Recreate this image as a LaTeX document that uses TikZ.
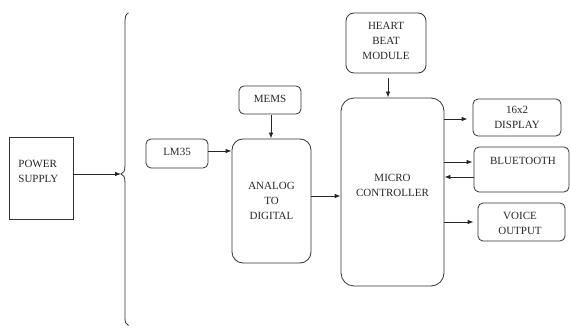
\documentclass[tikz,border=0pt]{standalone}
\usepackage{fontspec}
\setmainfont{Liberation Serif}
\usetikzlibrary{arrows.meta,calc}
\begin{document}
\begin{tikzpicture}[x=1pt,y=1pt,
  line width=0.8pt,
  blk/.style={draw=black!80, line width=0.8pt, inner sep=0pt},
  rbox/.style={blk, rounded corners=5pt},
  bigbox/.style={blk, rounded corners=11pt},
  txt/.style={font=\fontsize{11}{15}\selectfont, align=center, inner sep=0pt, text=black!85},
  arr/.style={-{Latex[length=6pt,width=4.5pt]}, draw=black!85, line width=0.8pt}]
\useasboundingbox (0,0) rectangle (570,327);

% power supply and the supply brace
\node[blk, minimum width=64pt, minimum height=82pt] (ps) at (41,149) {};
\node[txt, align=left, anchor=west] at (18,156) {POWER\\SUPPLY};
\coordinate (tip) at (121,153);
\draw[black!80, line width=0.8pt]
  (128.5,314) .. controls (125.5,313) and (125,310) .. (125,304)
  -- (125,162) .. controls (125,156) and (123.5,153.5) .. (tip)
  .. controls (123.5,152.5) and (125,150) .. (125,144)
  -- (125,10) .. controls (125,5) and (125.5,2.5) .. (128.5,1.5);
\draw[arr] (ps.east |- tip) -- (tip);

% sensor inputs and converter
\node[rbox, minimum width=62pt, minimum height=29pt] (lm) at (177,173.5) {};
\node[txt] at (177,175) {LM35};
\node[rbox, minimum width=62pt, minimum height=28pt] (mems) at (270,227) {};
\node[txt] at (270,228) {MEMS};
\node[bigbox, minimum width=79pt, minimum height=124pt] (adc) at (271.5,126) {};
\node[txt] at (271.5,126) {ANALOG\\TO\\DIGITAL};

% controller and peripherals
\node[bigbox, rounded corners=13pt, minimum width=103pt, minimum height=188pt] (mc) at (392.5,135) {};
\node[txt] at (392.5,141.5) {MICRO\\CONTROLLER};
\node[rbox, rounded corners=8pt, minimum width=80pt, minimum height=60pt] (hb) at (386,284) {};
\node[txt] at (386,286) {HEART\\BEAT\\MODULE};
\node[rbox, minimum width=88pt, minimum height=37pt] (disp) at (517,209.5) {};
\node[txt] at (517,209.5) {16x2\\DISPLAY};
\node[rbox, minimum width=95pt, minimum height=45pt] (bt) at (521.5,157.5) {};
\node[txt] at (523,166) {BLUETOOTH};
\node[rbox, minimum width=87pt, minimum height=38pt] (voice) at (521.5,105) {};
\node[txt] at (520,103.5) {VOICE\\OUTPUT};

% signal flow
\draw[arr] ([yshift=2.5pt]lm.east) -- ([yshift=2.5pt]lm.east -| adc.west);
\draw[arr] (mems.south -| 271,0) ++(0,-1) -- (adc.north -| 271,0);
\draw[arr] ([yshift=5pt]adc.east) -- ([yshift=5pt]adc.east -| mc.west);
\draw[arr] (388,249) -- (mc.north -| 388,0);
\draw[arr, shorten >=5pt] ([yshift=-1.5pt]disp.west -| mc.east) -- ([yshift=-1.5pt]disp.west);
\draw[arr, shorten >=1pt] ([yshift=7.5pt]bt.west -| mc.east) -- ([yshift=7.5pt]bt.west);
\draw[arr] ([yshift=-7.5pt]bt.west) -- ([yshift=-7.5pt]bt.west -| mc.east);
\draw[arr, shorten >=4pt] (voice.west -| mc.east) -- (voice.west);
\end{tikzpicture}
\end{document}
